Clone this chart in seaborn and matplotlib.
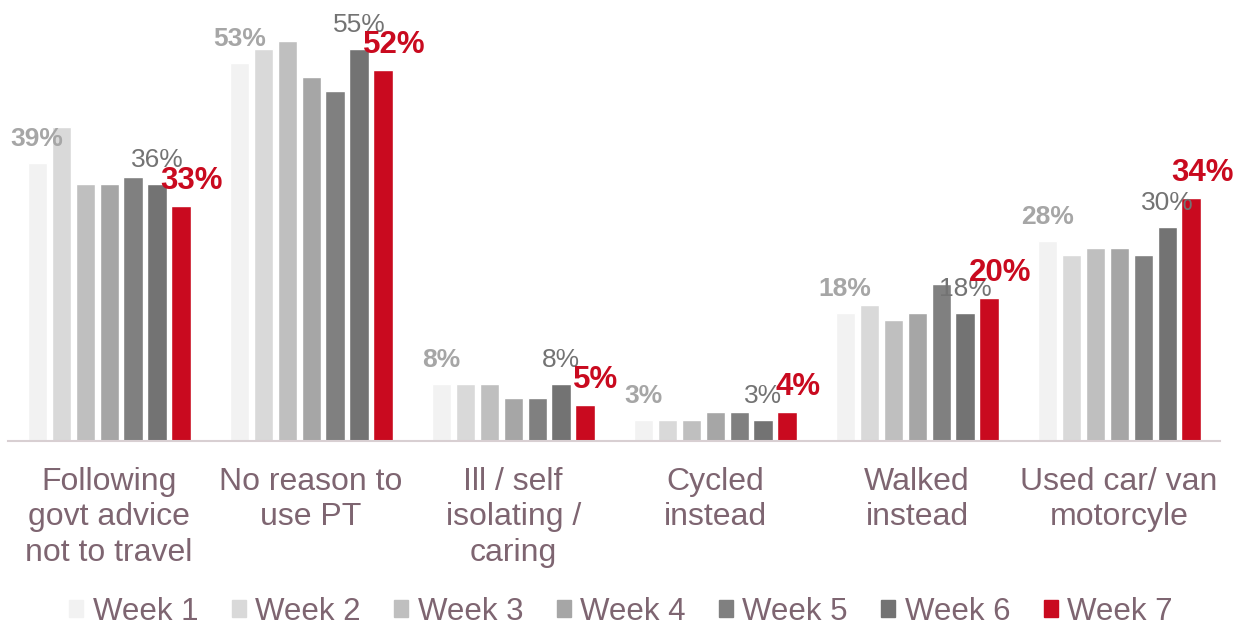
import pandas as pd
import seaborn as sns
import matplotlib.pyplot as plt

categories = ["Following\ngovt advice\nnot to travel", "No reason to\nuse PT",
              "Ill / self\nisolating /\ncaring", "Cycled\ninstead",
              "Walked\ninstead", "Used car/ van\nmotorcyle"]
weeks = ["Week 1", "Week 2", "Week 3", "Week 4", "Week 5", "Week 6", "Week 7"]

week1 = [39, 53, 8, 3, 18, 28]
week2 = [44, 55, 8, 3, 19, 26]
week3 = [36, 56, 8, 3, 17, 27]
week4 = [36, 51, 6, 4, 18, 27]
week5 = [37, 49, 6, 4, 22, 26]
week6 = [36, 55, 8, 3, 18, 30]
week7 = [33, 52, 5, 4, 20, 34]

series = [week1, week2, week3, week4, week5, week6, week7]
rows = []
for w, vals in zip(weeks, series):
    for c, v in zip(categories, vals):
        rows.append({"Reason": c, "Week": w, "Pct": v})
df = pd.DataFrame(rows)

pal = ["#f2f2f2", "#d9d9d9", "#bfbfbf", "#a6a6a6", "#808080", "#737373", "#c90a1f"]
text_col = "#7e6571"

sns.set_theme(style="white")
plt.rcParams['font.family'] = ['Liberation Sans', 'DejaVu Sans']

fig = plt.figure(figsize=(12.47, 6.25), dpi=100)
ax = fig.add_axes([0.0065, 0.2944, 0.972, 0.7056])

sns.barplot(data=df, x="Reason", y="Pct", hue="Week", palette=pal,
            width=0.83, gap=0.2, ax=ax, legend=False, saturation=1)

ax.set_ylim(0, 61.8)
ax.set_xlim(-0.5, 5.5)
ax.set_yticks([])
ax.set_xlabel("")
ax.set_ylabel("")
for s in ["top", "left", "right"]:
    ax.spines[s].set_visible(False)
ax.spines["bottom"].set_color("#d8cfd2")
ax.spines["bottom"].set_linewidth(1.5)
ax.tick_params(axis="x", length=0, pad=19, labelsize=23, labelcolor=text_col)
for t in ax.get_xticklabels():
    t.set_linespacing(1.22)

# value labels for week 1, week 6 and week 7
label_style = {
    0: dict(color="#a6a6a6", fontweight="bold", fontsize=19, dx=0),
    5: dict(color="#737373", fontweight="normal", fontsize=19, dx=0),
    6: dict(color="#c90a1f", fontweight="bold", fontsize=22.5, dx=11),
}
for i, st in label_style.items():
    for bar, v in zip(ax.containers[i], series[i]):
        x = bar.get_x() + bar.get_width() / 2
        ax.annotate(f"{v}%", (x, bar.get_height()), xytext=(st["dx"], 17),
                    textcoords="offset pixels", ha="center", va="baseline",
                    color=st["color"], fontweight=st["fontweight"],
                    fontsize=st["fontsize"], annotation_clip=False)

handles = [plt.Rectangle((0, 0), 1, 1, color=c) for c in pal]
leg = fig.legend(handles, weeks, loc="lower center", ncol=7, frameon=False,
                 bbox_to_anchor=(0.498, -0.048), fontsize=22.5,
                 handlelength=0.45, handleheight=0.45, handletextpad=0.3,
                 columnspacing=1.07)
for t in leg.get_texts():
    t.set_color(text_col)

plt.savefig("out.png", dpi=100)
